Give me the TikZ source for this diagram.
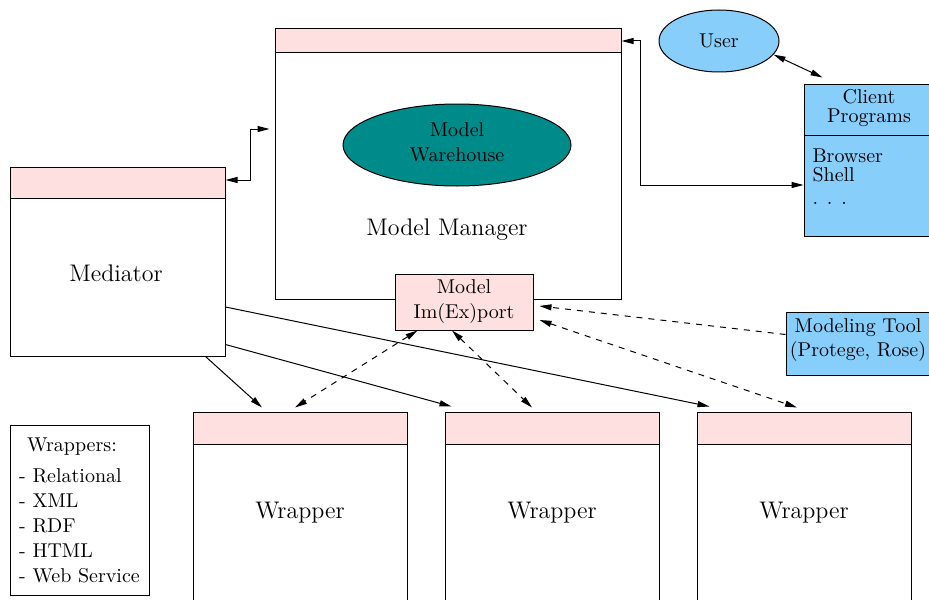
\documentclass[tikz,border=0pt]{standalone}
\usetikzlibrary{arrows.meta,shapes.geometric}
\definecolor{hdrpink}{RGB}{255,224,224}
\definecolor{skyblue}{RGB}{135,206,250}
\definecolor{whteal}{RGB}{0,139,139}
\begin{document}
\begin{tikzpicture}[x=0.5pt,y=-0.5pt,line width=0.5pt,>={Triangle[length=6pt,width=3pt]}]
	\tikzset{box/.style 2 args={draw,inner sep=0pt,minimum width=#1,minimum height=#2},
		hdr/.style={fill=hdrpink},
		dep/.style={<->,dashed},
		big/.style={font=\large}
	}
	\useasboundingbox (0,0) rectangle (929,599);
	\clip (0,0) rectangle (929,599);
	% model manager
	\node[box={173pt}{135pt}] (mm) at (448,164) {};
	\node[box={173pt}{12pt},hdr] (mmh) at (448,41) {};
	\node[ellipse,draw,fill=whteal,inner sep=0pt,minimum width=114pt,minimum height=41pt] (store) at (457,145) {};
	\node[align=center,font=\fontsize{10}{12.5}\selectfont] (storetxt) at (457,142) {Model\\Warehouse};
	\node[big] (mmtxt) at (447,230) {Model Manager};
	\node[box={69pt}{28pt},hdr,align=center,font=\fontsize{10}{12.5}\selectfont] (imex) at (464,302) {Model\\Im(Ex)port};
	% mediator
	\node[box={107.5pt}{94.5pt}] (med) at (117.5,261.5) {};
	\node[box={107.5pt}{15.5pt},hdr] (medh) at (117.5,182.5) {};
	\node[big] (medtxt) at (116,273) {Mediator};
	% user and tools
	\node[ellipse,draw,fill=skyblue,minimum width=60pt,minimum height=31pt] (user) at (719,41) {User};
	\node[box={68pt}{75.5pt},fill=skyblue] (client) at (872,160.5) {};
	\draw ([yshift=-25.5pt]client.north west) -- ([yshift=-25.5pt]client.north east);
	\node[align=center,font=\fontsize{10}{9.5}\selectfont] (cptitle) at (869,108) {Client\\Programs};
	\node[align=left,anchor=north west,inner sep=0pt,font=\fontsize{10}{9.5}\selectfont] (cplist) at (812,148) {Browser\\Shell\\[2pt]. . .};
	\node[box={77pt}{31.5pt},fill=skyblue] (tool) at (863,343.5) {};
	\node[align=center,inner sep=0pt] (tooltxt) at (858,340) {Modeling Tool\\(Protege, Rose)};
	% wrappers
	\foreach \x/\n in {300/1,552/2,804/3}{
		\node[box={107pt}{108pt}] (wrap\n) at (\x,520) {};
		\node[box={107pt}{16pt},hdr] (wraphdr\n) at (\x,428) {};
		\node[big] (wraptxt\n) at (\x,513) {Wrapper};
	}
	\node[box={69.5pt}{85pt},align=left,inner sep=3pt,font=\fontsize{10}{12.5}\selectfont] (legend) at (79.5,510)
		{\hspace{4pt}Wrappers:\\[3pt] - Relational\\ - XML\\ - RDF\\ - HTML\\ - Web Service};
	% connectors
	\draw[<->] ([yshift=1.25pt]medh.east) -| (250,129) -- ([xshift=-2.5pt,yshift=17.5pt]mm.west);
	\draw[<->] (mmh.east) -| (640,185) -- ([yshift=-12.25pt]client.west);
	\draw[<->] (user.-14) -- ([xshift=9.5pt,yshift=3.5pt]client.north west);
	\draw[->] ([xshift=-10pt]med.south east) -- ([xshift=-19pt,yshift=2pt]wraphdr1.north);
	\draw[->] ([yshift=6pt]med.south east) -- ([xshift=3.5pt,yshift=2.5pt]wraphdr2.north west);
	\draw[->] ([yshift=-22.75pt]med.east) -- ([xshift=6.5pt,yshift=2.5pt]wraphdr3.north west);
	\draw[dep] ([xshift=11.5pt]imex.south west) -- ([xshift=-2.5pt,yshift=2pt]wraphdr1.north);
	\draw[dep] ([xshift=-6pt]imex.south) -- ([xshift=-10pt,yshift=2pt]wraphdr2.north);
	\draw[dep] ([xshift=3pt,yshift=-9pt]imex.east) -- ([xshift=-3.5pt,yshift=2pt]wraphdr3.north);
	\draw[->,dashed] ([yshift=4.5pt]tool.west) -- ([xshift=3pt,yshift=-2pt]imex.east);
\end{tikzpicture}
\end{document}
